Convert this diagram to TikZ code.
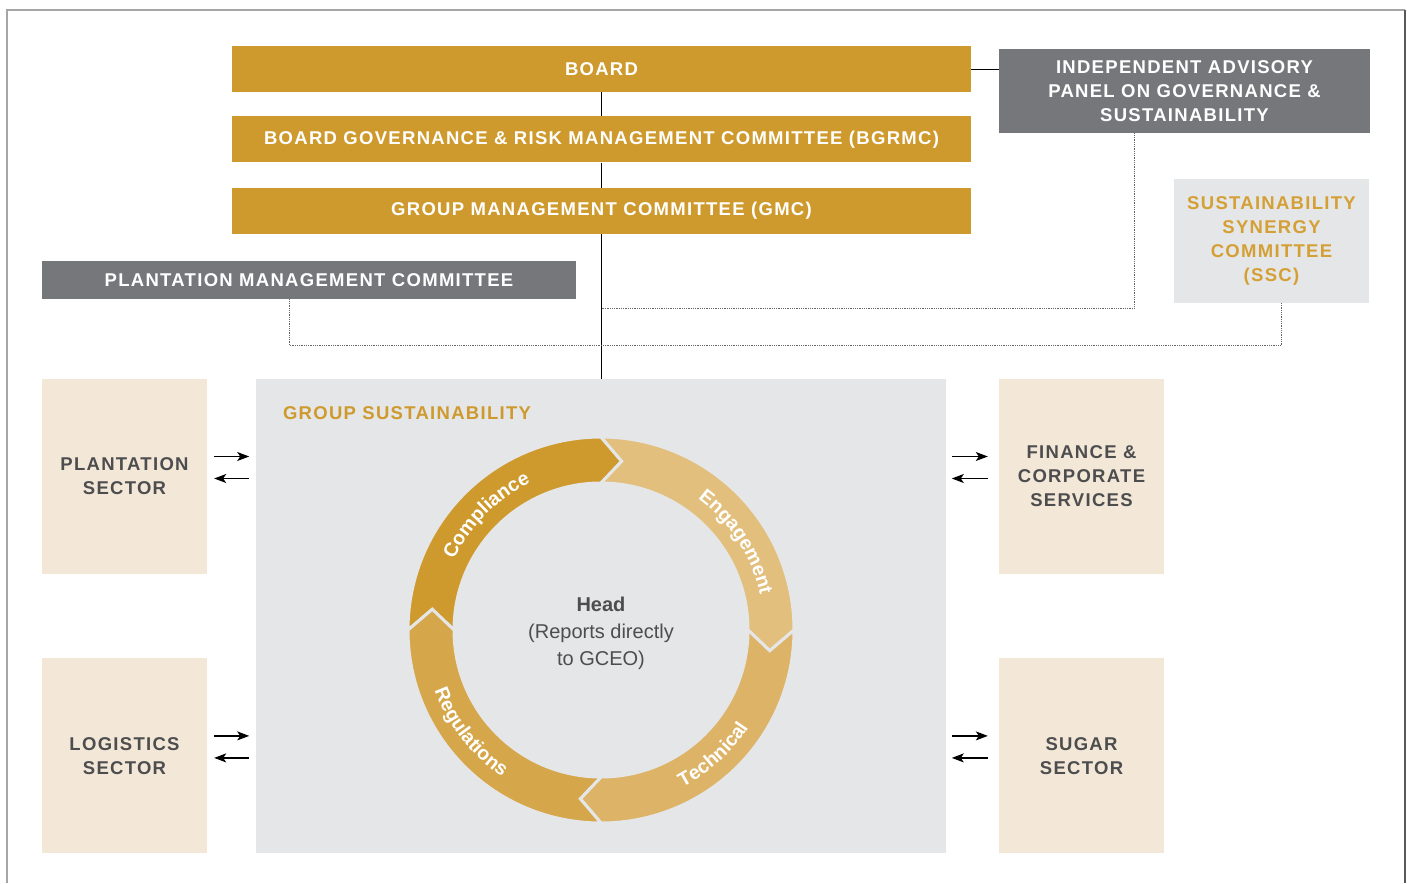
\documentclass[tikz,border=0pt]{standalone}
\usepackage{fontspec}
\setmainfont{Liberation Sans}
\newfontfamily\capsfont[LetterSpace=7.0]{Liberation Sans}
\usetikzlibrary{positioning,arrows.meta,decorations.text}

\definecolor{sdgold}{HTML}{CF9A2D}
\definecolor{sdgoldtext}{HTML}{D4A036}
\definecolor{sdgrey}{HTML}{76777B}
\definecolor{sdlight}{HTML}{E5E6E8}
\definecolor{sdbeige}{HTML}{F3E8D7}
\definecolor{sdtext}{HTML}{4D4D4F}
\definecolor{ringA}{HTML}{CF9A2D}
\definecolor{ringB}{HTML}{E2BF7C}
\definecolor{ringC}{HTML}{DDB467}
\definecolor{ringD}{HTML}{D6A64A}

\newcommand\capsbold{\capsfont\bfseries\fontsize{18.5}{24}\selectfont}
\newcommand\ringfont{\bfseries\fontsize{19.5}{19.5}\selectfont}

\tikzset{
  govbox/.style={fill=sdgold, text=white, font=\capsbold, minimum width=739pt, minimum height=46pt, inner sep=0pt, align=center},
  greybox/.style={fill=sdgrey, text=white, font=\capsbold, inner sep=0pt, align=center},
  sectorbox/.style={fill=sdbeige, text=sdtext, font=\capsbold, minimum width=165pt, minimum height=195pt, inner sep=0pt, align=center},
  dotline/.style={densely dotted, line width=0.8pt, black!60},
  flow/.style={-{Stealth[length=12pt,width=9pt,inset=3pt]}, line width=1.2pt},
}

\begin{document}
\begin{tikzpicture}[x=1pt,y=1pt]
  \useasboundingbox (0,0) rectangle (1407,-883);
  % frame
  \draw[line width=1.5pt, black!35] (7,-883) -- (7,-10) -- (1405,-10);
  \draw[line width=1.5pt, black!65] (1405,-10) -- (1405,-883);

  % governance
  \node[govbox] (board) at (601.5,-69) {BOARD};
  \node[govbox, below=24pt of board] (bgrmc) {BOARD GOVERNANCE \& RISK MANAGEMENT COMMITTEE (BGRMC)};
  \node[govbox, below=25pt of bgrmc] (gmc) {GROUP MANAGEMENT COMMITTEE (GMC)};
  \node[greybox, minimum width=371pt, minimum height=84pt] (panel) at (1184.5,-91)
    {INDEPENDENT ADVISORY\\PANEL ON GOVERNANCE \&\\SUSTAINABILITY};
  \node[greybox, fill=sdlight, text=sdgoldtext, minimum width=195pt, minimum height=124pt] (ssc) at (1271.5,-241)
    {SUSTAINABILITY\\SYNERGY\\COMMITTEE\\(SSC)};
  \node[greybox, minimum width=534pt, minimum height=38pt] (pmc) at (309,-280) {PLANTATION MANAGEMENT COMMITTEE};

  % group sustainability and sectors
  \node[fill=sdlight, minimum width=690pt, minimum height=474pt, inner sep=0pt] (gs) at (601,-616) {};
  \node[font=\capsbold, text=sdgold, anchor=west, inner sep=0pt] (gstitle) at ([xshift=27pt,yshift=-34pt]gs.north west) {GROUP SUSTAINABILITY};
  \node[sectorbox] (plant) at (124.5,-476.5) {PLANTATION\\SECTOR};
  \node[sectorbox, below=84pt of plant] (logis) {LOGISTICS\\SECTOR};
  \node[sectorbox] (fin) at (1081.5,-476.5) {FINANCE \&\\CORPORATE\\SERVICES};
  \node[sectorbox, below=84pt of fin] (sugar) {SUGAR\\SECTOR};

  % connectors
  \draw (board) -- (bgrmc);
  \draw (bgrmc) -- (gmc);
  \draw (gmc.south) -- (gmc.south |- gs.north);
  \draw (board.east) -- (board.east -| panel.west);
  \draw[dotline] ([xshift=-50pt]panel.south) |- ([yshift=-74pt]gmc.south);
  \draw[dotline] ([xshift=-20pt]pmc.south) |- ([shift={(10pt,-42pt)}]ssc.south) -- ([xshift=10pt]ssc.south);
  \foreach \s in {plant,logis} {
    \draw[flow] ([shift={(7pt,20pt)}]\s.east) -- ++(35pt,0);
    \draw[flow] ([shift={(42pt,-2pt)}]\s.east) -- ++(-35pt,0);
  }
  \foreach \s in {fin,sugar} {
    \draw[flow] ([shift={(-47pt,20pt)}]\s.west) -- ++(36pt,0);
    \draw[flow] ([shift={(-11pt,-2pt)}]\s.west) -- ++(-36pt,0);
  }

  % ring
  \coordinate (ring) at (601,-630);
  \begin{scope}[shift={(ring)}]
    \foreach \a/\col in {180/ringA,90/ringB,0/ringC,-90/ringD}
      \filldraw[fill=\col, draw=sdlight, line width=3pt]
        (\a:193) arc[start angle=\a, end angle=\a-90, radius=193]
        -- (\a-97:170) -- (\a-90:147)
        arc[start angle=\a-90, end angle=\a, radius=147]
        -- (\a-7:170) -- cycle;
    \path[decorate, decoration={text along path, text={|\ringfont|Compliance}, text color=white, text align=center}]
      (175:163) arc[start angle=175, end angle=95, radius=163];
    \path[decorate, decoration={text along path, text={|\ringfont|Engagement}, text color=white, text align=center}]
      (73:163) arc[start angle=73, end angle=-7, radius=163];
    \path[decorate, decoration={text along path, text={|\ringfont|Technical}, text color=white, text align=center}]
      (-88:177) arc[start angle=-88, end angle=-8, radius=177];
    \path[decorate, decoration={text along path, text={|\ringfont|Regulations}, text color=white, text align=center}]
      (178:177) arc[start angle=178, end angle=258, radius=177];
  \end{scope}
  \node[text=sdtext, align=center, font=\fontsize{20}{27}\selectfont] (head) at ([yshift=-3pt]ring)
    {\textbf{Head}\\(Reports directly\\to GCEO)};
\end{tikzpicture}
\end{document}
